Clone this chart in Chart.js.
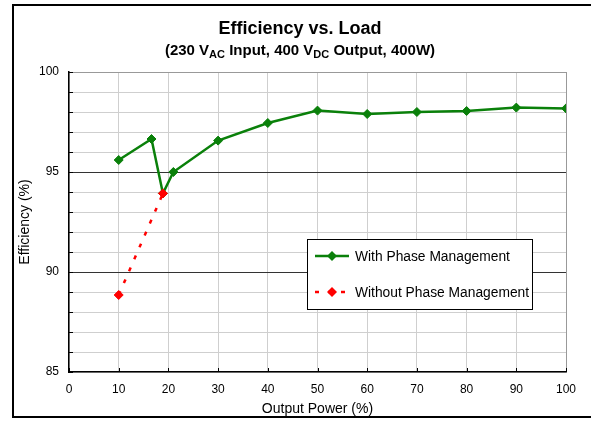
<!DOCTYPE html>
<html>
<head>
<meta charset="utf-8">
<script src="https://cdn.jsdelivr.net/npm/chart.js@4.4.1/dist/chart.umd.min.js"></script>
<style>
  html, body { margin: 0; padding: 0; background: #fff; }
</style>
</head>
<body>
<canvas id="effChart" width="591" height="422"></canvas>
<script>
// Carga (%) y eficiencia (%) con gestión de fases
var loadWith = [10, 16.6, 18.9, 21, 30, 40, 50, 60, 70, 80, 90, 100];
var effWith = [95.6, 96.65, 93.93, 95.0, 96.57, 97.45, 98.07, 97.9, 98.0, 98.05, 98.22, 98.18];
// sin gestión de fases
var loadWithout = [10, 18.9];
var effWithout = [88.85, 93.93];

var seriesNames = ['With Phase Management', 'Without Phase Management'];
var yLabelValues = [85, 90, 95, 100];
var yMajorLines = [90, 95];

var fontFamily = '"Liberation Sans", Arial, Helvetica, sans-serif';
Chart.defaults.font.family = fontFamily;
Chart.defaults.color = '#000';

function toPoints(xs, ys) {
    return xs.map(function (x, i) { return { x: x, y: ys[i] }; });
}

// marco exterior
var framePlugin = {
    id: 'frame',
    beforeDraw: function (chart) {
        var ctx = chart.ctx;
        ctx.save();
        ctx.fillStyle = '#fff';
        ctx.fillRect(0, 0, chart.width, chart.height);
        ctx.strokeStyle = '#000';
        ctx.lineWidth = 2;
        ctx.strokeRect(13, 5, chart.width, 412);
        ctx.restore();
    }
};

// título con subíndices
var titlePlugin = {
    id: 'twoLineTitle',
    afterDraw: function (chart) {
        var ctx = chart.ctx;
        var cx = 300;
        ctx.save();
        ctx.fillStyle = '#000';
        ctx.textBaseline = 'alphabetic';
        ctx.textAlign = 'center';
        ctx.font = 'bold 18px ' + fontFamily;
        ctx.fillText('Efficiency vs. Load', cx, 34);

        var parts = [
            ['(230 V', false], ['AC', true], [' Input, 400 V', false],
            ['DC', true], [' Output, 400W)', false]
        ];
        var mainFont = 'bold 15px ' + fontFamily;
        var subFont = 'bold 11px ' + fontFamily;
        var total = 0;
        parts.forEach(function (p) {
            ctx.font = p[1] ? subFont : mainFont;
            total += ctx.measureText(p[0]).width;
        });
        var x = cx - total / 2;
        ctx.textAlign = 'left';
        parts.forEach(function (p) {
            ctx.font = p[1] ? subFont : mainFont;
            ctx.fillText(p[0], x, p[1] ? 58 : 55);
            x += ctx.measureText(p[0]).width;
        });
        ctx.restore();
    }
};

// marcas cortas hacia dentro en los ejes
var innerTicks = {
    id: 'innerTicks',
    beforeDatasetsDraw: function (chart) {
        var ctx = chart.ctx, a = chart.chartArea;
        var xs = chart.scales.x, ys = chart.scales.y;
        ctx.save();
        ctx.strokeStyle = '#000';
        ctx.lineWidth = 1;
        ctx.beginPath();
        ys.ticks.forEach(function (t) {
            var y = Math.round(ys.getPixelForValue(t.value)) + 0.5;
            ctx.moveTo(a.left, y);
            ctx.lineTo(a.left + 4, y);
        });
        xs.ticks.forEach(function (t) {
            var x = Math.round(xs.getPixelForValue(t.value)) + 0.5;
            ctx.moveTo(x, a.bottom);
            ctx.lineTo(x, a.bottom - 4);
        });
        ctx.stroke();
        ctx.restore();
    }
};

function drawDiamond(ctx, x, y, r, color) {
    ctx.fillStyle = color;
    ctx.beginPath();
    ctx.moveTo(x - r, y);
    ctx.lineTo(x, y - r);
    ctx.lineTo(x + r, y);
    ctx.lineTo(x, y + r);
    ctx.closePath();
    ctx.fill();
}

// leyenda en recuadro dentro del área del gráfico
var boxLegend = {
    id: 'boxLegend',
    afterDatasetsDraw: function (chart) {
        var ctx = chart.ctx;
        var bx = 307, by = 239, bw = 225, bh = 70;
        ctx.save();
        ctx.fillStyle = '#fff';
        ctx.fillRect(bx, by, bw, bh);
        ctx.strokeStyle = '#000';
        ctx.lineWidth = 1;
        ctx.strokeRect(bx + 0.5, by + 0.5, bw, bh);

        var rows = [256, 292];
        [0, 1].forEach(function (idx, i) {
            var ds = chart.data.datasets.filter(function (d) { return d.legendIndex === idx; })[0];
            var y = rows[i];
            ctx.strokeStyle = ds.borderColor;
            ctx.lineWidth = ds.borderWidth;
            ctx.setLineDash(ds.borderDash || []);
            ctx.beginPath();
            ctx.moveTo(315, y);
            ctx.lineTo(349, y);
            ctx.stroke();
            ctx.setLineDash([]);
            drawDiamond(ctx, 332, y, 5, ds.pointBackgroundColor);
            ctx.fillStyle = '#000';
            ctx.font = '13.8px ' + fontFamily;
            ctx.textAlign = 'left';
            ctx.textBaseline = 'middle';
            ctx.fillText(ds.label, 355, y + 1);
        });
        ctx.restore();
    }
};

var ctxEff = document.getElementById('effChart').getContext('2d');
var effChart = new Chart(ctxEff, {
    type: 'line',
    data: {
        datasets: [{
            label: seriesNames[0],
            legendIndex: 0,
            data: toPoints(loadWith, effWith),
            borderColor: '#0a800a',
            backgroundColor: '#0a800a',
            pointBackgroundColor: '#0a800a',
            pointBorderColor: '#0a800a',
            borderWidth: 2.5,
            pointStyle: 'rectRot',
            pointRadius: 4.5,
            pointBorderWidth: 1,
            tension: 0,
            order: 2
        }, {
            label: seriesNames[1],
            legendIndex: 1,
            data: toPoints(loadWithout, effWithout),
            borderColor: '#ff0000',
            backgroundColor: '#ff0000',
            pointBackgroundColor: '#ff0000',
            pointBorderColor: '#ff0000',
            borderWidth: 2.5,
            borderDash: [4, 9],
            pointStyle: 'rectRot',
            pointRadius: 4.5,
            pointBorderWidth: 1,
            tension: 0,
            order: 1
        }]
    },
    options: {
        responsive: false,
        animation: false,
        devicePixelRatio: 1,
        layout: { padding: { top: 72, right: 25, left: 0, bottom: 0 } },
        plugins: {
            legend: { display: false },
            tooltip: { enabled: false }
        },
        scales: {
            x: {
                type: 'linear',
                min: 0,
                max: 100,
                afterFit: function (s) { s.height = 50; },
                ticks: {
                    stepSize: 10,
                    padding: 10,
                    autoSkip: false,
                    maxRotation: 0,
                    color: '#000',
                    font: { size: 12 }
                },
                grid: {
                    drawTicks: false,
                    lineWidth: 1,
                    color: function (c) { return c.tick.value === 100 ? '#999' : '#cfcfcf'; }
                },
                border: { color: '#000', width: 1.5 },
                title: {
                    display: true,
                    text: 'Output Power (%)',
                    color: '#000',
                    font: { size: 14 },
                    padding: { top: 0, bottom: 4 }
                }
            },
            y: {
                min: 85,
                max: 100,
                afterFit: function (s) { s.width = 69; },
                ticks: {
                    stepSize: 1,
                    padding: 10,
                    autoSkip: false,
                    color: '#000',
                    font: { size: 12 },
                    callback: function (v) { return yLabelValues.indexOf(v) >= 0 ? String(v) : ''; }
                },
                grid: {
                    drawTicks: false,
                    lineWidth: 1,
                    color: function (c) {
                        if (yMajorLines.indexOf(c.tick.value) >= 0) return '#333';
                        return c.tick.value === 100 ? '#999' : '#cfcfcf';
                    }
                },
                border: { color: '#000', width: 1.5 },
                title: {
                    display: true,
                    text: 'Efficiency (%)',
                    color: '#000',
                    font: { size: 14 },
                    padding: { top: 17, bottom: 0 }
                }
            }
        }
    },
    plugins: [framePlugin, innerTicks, boxLegend, titlePlugin]
});
</script>
</body>
</html>
